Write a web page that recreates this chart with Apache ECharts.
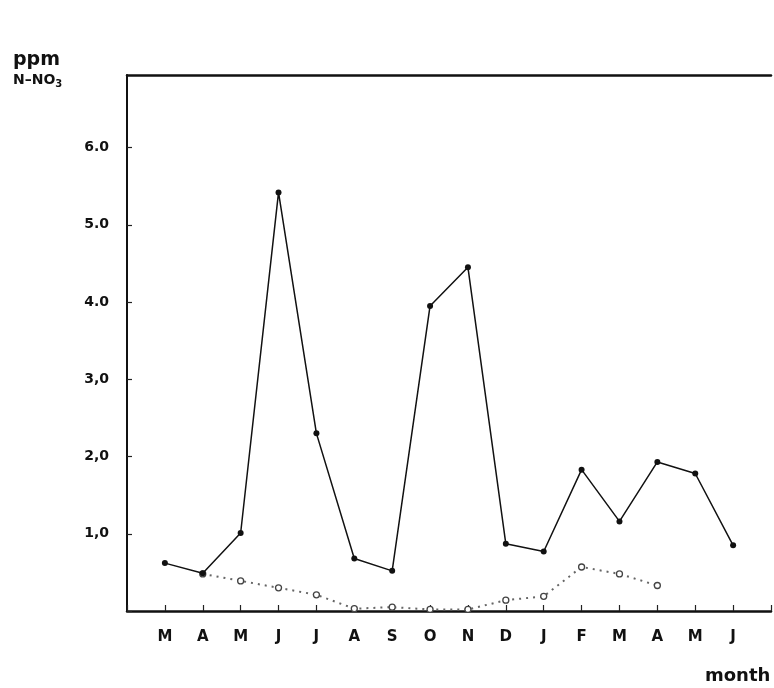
<!DOCTYPE html>
<html><head><meta charset="utf-8">
<script src="https://cdn.jsdelivr.net/npm/echarts@6/dist/echarts.min.js"></script>
<style>html,body{margin:0;padding:0;background:#fff}#c{width:774px;height:688px}</style>
</head><body><div id="c"></div>
<script>
const months = ['M','A','M','J','J','A','S','O','N','D','J','F','M','A','M','J'];
const solidValues = [0.62,0.49,1.01,5.42,2.30,0.68,0.52,3.95,4.45,0.87,0.77,1.83,1.16,1.93,1.78,0.85];
const dottedValues = [null,0.48,0.39,0.30,0.21,0.03,0.05,0.02,0.02,0.14,0.19,0.57,0.48,0.33,null,null];
const yTickLabels = {1:'1,0',2:'2,0',3:'3,0',4:'4.0',5:'5.0',6:'6.0'};

const chart = echarts.init(document.getElementById('c'), null, {renderer:'canvas'});
const FONT = 'DejaVu Sans';
chart.setOption({
  backgroundColor:'#fff',
  animation:false,
  grid:{left:127, right:0, top:75, bottom:77},
  title:[
    {text:'ppm', left:8, top:46, textStyle:{fontFamily:FONT, fontWeight:'bold', fontSize:19, color:'#111'}},
    {text:'{a|N\u2013NO}{s|3}', left:8, top:66, textStyle:{rich:{
      a:{fontFamily:FONT, fontWeight:'bold', fontSize:14, color:'#111'},
      s:{fontFamily:FONT, fontWeight:'bold', fontSize:10, color:'#111', padding:[8,0,0,0]}}}},
    {text:'month', left:700, top:662, textStyle:{fontFamily:FONT, fontWeight:'bold', fontSize:18, color:'#111'}}
  ],
  xAxis:[{
    type:'value', min:-1, max:16, interval:1,
    axisLine:{show:true, onZero:false, lineStyle:{color:'#111', width:2.5}},
    axisTick:{show:true, inside:true, length:6, lineStyle:{color:'#222', width:1.2}},
    splitLine:{show:false},
    axisLabel:{margin:19, fontFamily:FONT, fontWeight:'bold', fontSize:15, color:'#111',
      formatter:v=> (v>=0 && v<months.length) ? months[v] : ''}
  },{
    type:'value', position:'top', min:-1, max:16,
    axisLine:{show:true, onZero:false, lineStyle:{color:'#111', width:2.5}},
    axisTick:{show:false}, axisLabel:{show:false}, splitLine:{show:false}
  }],
  yAxis:{
    type:'value', min:0, max:6.94, interval:1,
    axisLine:{show:true, onZero:false, lineStyle:{color:'#111', width:2}},
    axisTick:{show:true, inside:true, length:5, lineStyle:{color:'#222', width:1.2}},
    splitLine:{show:false},
    axisLabel:{margin:18, fontFamily:FONT, fontWeight:'bold', fontSize:14, color:'#111',
      formatter:v=> yTickLabels[Math.round(v)] || '', showMaxLabel:false}
  },
  series:[
    {type:'line', data:solidValues.map((v,i)=>[i,v]), symbol:'circle', symbolSize:6,
      lineStyle:{color:'#111', width:1.5}, itemStyle:{color:'#111'}, z:3},
    {type:'line', data:dottedValues.map((v,i)=>[i,v]), connectNulls:false, symbol:'circle', symbolSize:6,
      lineStyle:{color:'#666', width:2, type:[2,5]}, itemStyle:{color:'#fff', borderColor:'#444', borderWidth:1.3}, z:2}
  ]
});
</script></body></html>
